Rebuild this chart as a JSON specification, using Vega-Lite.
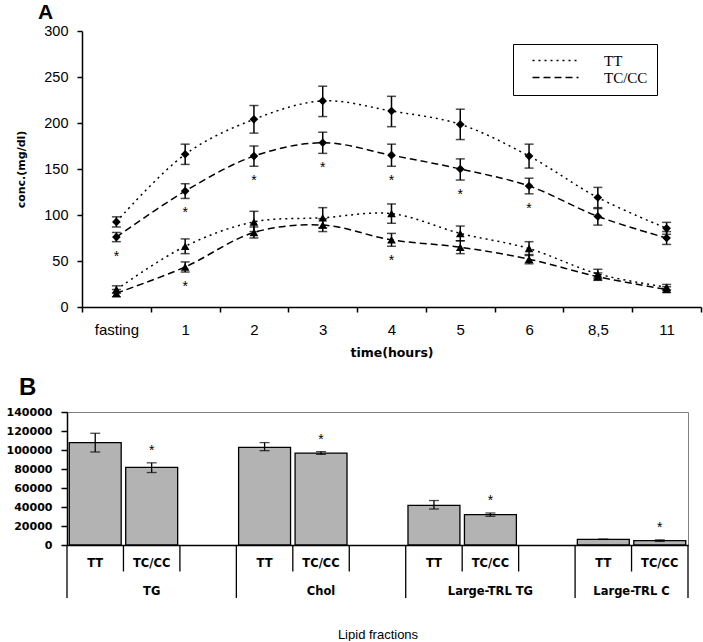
{
 "$schema": "https://vega.github.io/schema/vega-lite/v6.json",
 "background": "white",
 "padding": {"left": 5, "top": 2, "right": 2, "bottom": 0},
 "config": {
   "font": "Liberation Sans",
   "axis": {"grid": false, "domainColor": "black", "tickColor": "black", "labelColor": "black", "titleColor": "black", "domainWidth": 1.5, "tickWidth": 1.5, "labelOverlap": false},
   "title": {"color": "black"}
 },
 "datasets": {
  "timecourse": [
   {"time":"fasting","genotype":"TT","analyte":"TG","value":92.5,"lo":87,"hi":98,"sig":false},
   {"time":"1","genotype":"TT","analyte":"TG","value":166,"lo":155,"hi":177,"sig":false},
   {"time":"2","genotype":"TT","analyte":"TG","value":204,"lo":189,"hi":219,"sig":false},
   {"time":"3","genotype":"TT","analyte":"TG","value":224,"lo":207,"hi":240,"sig":false},
   {"time":"4","genotype":"TT","analyte":"TG","value":213,"lo":196,"hi":229,"sig":false},
   {"time":"5","genotype":"TT","analyte":"TG","value":198.5,"lo":182,"hi":215,"sig":false},
   {"time":"6","genotype":"TT","analyte":"TG","value":164,"lo":151,"hi":177,"sig":false},
   {"time":"8,5","genotype":"TT","analyte":"TG","value":119,"lo":108,"hi":130,"sig":false},
   {"time":"11","genotype":"TT","analyte":"TG","value":85.5,"lo":79,"hi":92,"sig":false},
   {"time":"fasting","genotype":"TC/CC","analyte":"TG","value":76,"lo":71,"hi":81,"sig":true},
   {"time":"1","genotype":"TC/CC","analyte":"TG","value":126,"lo":118,"hi":134,"sig":true},
   {"time":"2","genotype":"TC/CC","analyte":"TG","value":164,"lo":153,"hi":175,"sig":true},
   {"time":"3","genotype":"TC/CC","analyte":"TG","value":178.5,"lo":167,"hi":190,"sig":true},
   {"time":"4","genotype":"TC/CC","analyte":"TG","value":165,"lo":153,"hi":177,"sig":true},
   {"time":"5","genotype":"TC/CC","analyte":"TG","value":150,"lo":138,"hi":161,"sig":true},
   {"time":"6","genotype":"TC/CC","analyte":"TG","value":131.5,"lo":123,"hi":140,"sig":true},
   {"time":"8,5","genotype":"TC/CC","analyte":"TG","value":98.5,"lo":89,"hi":107,"sig":false},
   {"time":"11","genotype":"TC/CC","analyte":"TG","value":75,"lo":68,"hi":82,"sig":false},
   {"time":"fasting","genotype":"TT","analyte":"Large-TRL TG","value":19,"lo":15,"hi":23,"sig":false},
   {"time":"1","genotype":"TT","analyte":"Large-TRL TG","value":66,"lo":58,"hi":74,"sig":false},
   {"time":"2","genotype":"TT","analyte":"Large-TRL TG","value":92.5,"lo":82,"hi":104,"sig":false},
   {"time":"3","genotype":"TT","analyte":"Large-TRL TG","value":97,"lo":86,"hi":108,"sig":false},
   {"time":"4","genotype":"TT","analyte":"Large-TRL TG","value":101.5,"lo":91,"hi":112,"sig":false},
   {"time":"5","genotype":"TT","analyte":"Large-TRL TG","value":80,"lo":72,"hi":88,"sig":false},
   {"time":"6","genotype":"TT","analyte":"Large-TRL TG","value":63.5,"lo":56,"hi":71,"sig":false},
   {"time":"8,5","genotype":"TT","analyte":"Large-TRL TG","value":36,"lo":31,"hi":41,"sig":false},
   {"time":"11","genotype":"TT","analyte":"Large-TRL TG","value":21.5,"lo":18.5,"hi":24.5,"sig":false},
   {"time":"fasting","genotype":"TC/CC","analyte":"Large-TRL TG","value":15,"lo":11,"hi":19,"sig":false},
   {"time":"1","genotype":"TC/CC","analyte":"Large-TRL TG","value":43.5,"lo":38,"hi":49,"sig":true},
   {"time":"2","genotype":"TC/CC","analyte":"Large-TRL TG","value":81,"lo":75,"hi":87,"sig":false},
   {"time":"3","genotype":"TC/CC","analyte":"Large-TRL TG","value":89,"lo":82,"hi":96,"sig":false},
   {"time":"4","genotype":"TC/CC","analyte":"Large-TRL TG","value":73,"lo":66,"hi":80,"sig":true},
   {"time":"5","genotype":"TC/CC","analyte":"Large-TRL TG","value":65,"lo":58,"hi":72,"sig":false},
   {"time":"6","genotype":"TC/CC","analyte":"Large-TRL TG","value":52,"lo":47,"hi":57,"sig":false},
   {"time":"8,5","genotype":"TC/CC","analyte":"Large-TRL TG","value":33,"lo":29,"hi":37,"sig":false},
   {"time":"11","genotype":"TC/CC","analyte":"Large-TRL TG","value":19,"lo":16,"hi":22,"sig":false}
  ],
  "auc": [
   {"key":"TG TT","group":"TG","genotype":"TT","value":107700,"lo":97900,"hi":117600,"sig":false},
   {"key":"TG TC/CC","group":"TG","genotype":"TC/CC","value":81800,"lo":76300,"hi":86500,"sig":true},
   {"key":"Chol TT","group":"Chol","genotype":"TT","value":102800,"lo":99300,"hi":107800,"sig":false},
   {"key":"Chol TC/CC","group":"Chol","genotype":"TC/CC","value":96800,"lo":95300,"hi":98300,"sig":true},
   {"key":"Large-TRL TG TT","group":"Large-TRL TG","genotype":"TT","value":41800,"lo":37900,"hi":46800,"sig":false},
   {"key":"Large-TRL TG TC/CC","group":"Large-TRL TG","genotype":"TC/CC","value":31900,"lo":30200,"hi":33700,"sig":true},
   {"key":"Large-TRL C TT","group":"Large-TRL C","genotype":"TT","value":6000,"lo":5900,"hi":6100,"sig":false},
   {"key":"Large-TRL C TC/CC","group":"Large-TRL C","genotype":"TC/CC","value":4600,"lo":3800,"hi":5400,"sig":true}
  ]
 },
 "columns": 1,
 "spacing": 16,
 "concat": [
  {
   "width": 634, "height": 276,
   "view": {"stroke": null},
   "title": {"text": "A", "anchor": "start", "frame": "group", "fontSize": 21, "fontWeight": "bold", "dx": -29, "offset": -17, "baseline": "alphabetic", "font": "Liberation Sans"},
   "data": {"name": "timecourse"},
   "encoding": {
    "x": {"field": "time", "type": "ordinal", "sort": null,
          "scale": {"type": "band", "domain": ["fasting","1","2","3","4","5","6","8,5","11"], "range": [15, 634], "paddingInner": 0, "paddingOuter": 0},
          "axis": {"title": "time(hours)", "labelAngle": 0, "labelOverlap": false, "tickBand": "extent", "tickSize": 5, "labelPadding": 10, "labelFontSize": 15, "labelFont": "Liberation Sans", "titleFont": "DejaVu Sans", "titleFontSize": 12.5, "titleFontWeight": "bold", "titlePadding": 9}}
   },
   "layer": [
    {
     "mark": {"type": "line", "interpolate": "catmull-rom", "color": "black", "strokeWidth": 1.5},
     "encoding": {
      "y": {"field": "value", "type": "quantitative", "title": "conc.(mg/dl)", "scale": {"domain": [0, 300]},
            "axis": {"values": [0,50,100,150,200,250,300], "labelOverlap": false, "offset": -15, "tickSize": 5, "labelPadding": 9, "labelFontSize": 14.5, "labelFont": "Liberation Sans", "titleFont": "DejaVu Sans", "titleFontSize": 11, "titleFontWeight": "bold", "titlePadding": 17}},
      "strokeDash": {"field": "genotype", "type": "nominal",
            "scale": {"domain": ["TT", "TC/CC"], "range": [[2, 4], [7, 4]]},
            "legend": {"title": null, "orient": "none", "legendX": 446, "legendY": 13, "symbolType": "M0.6,0H9.8", "symbolSize": 100, "symbolStrokeWidth": 1.5, "symbolStrokeColor": "black", "symbolFillColor": "transparent", "labelFont": "Liberation Serif", "labelFontSize": 15, "labelColor": "black", "labelOffset": 67, "strokeColor": "black", "fillColor": "white", "padding": 9, "rowPadding": 1}},
      "detail": {"field": "analyte", "type": "nominal"}
     }
    },
    {
     "mark": {"type": "errorbar", "ticks": {"size": 9}, "thickness": 1.5, "color": "black"},
     "encoding": {
      "y": {"field": "lo", "type": "quantitative", "title": "conc.(mg/dl)"},
      "y2": {"field": "hi"},
      "detail": {"field": "genotype", "type": "nominal"}
     }
    },
    {
     "mark": {"type": "point", "filled": true, "color": "black", "size": 75, "opacity": 1},
     "encoding": {
      "y": {"field": "value", "type": "quantitative", "title": "conc.(mg/dl)"},
      "shape": {"field": "analyte", "type": "nominal", "scale": {"domain": ["TG", "Large-TRL TG"], "range": ["diamond", "triangle-up"]}, "legend": null}
     }
    },
    {
     "transform": [{"filter": "datum.sig"}],
     "mark": {"type": "text", "text": "*", "dy": 15, "fontSize": 14, "color": "black"},
     "encoding": {
      "y": {"field": "lo", "type": "quantitative", "title": "conc.(mg/dl)"}
     }
    }
   ]
  },
  {
   "spacing": 0,
   "bounds": "flush",
   "vconcat": [
    {
     "width": 621, "height": 133,
     "view": {"stroke": "#808080"},
     "title": {"text": "B", "anchor": "start", "frame": "group", "fontSize": 24, "fontWeight": "bold", "dx": -48, "offset": -13, "baseline": "alphabetic", "font": "Liberation Sans"},
     "data": {"name": "auc"},
     "encoding": {
      "x": {"field": "key", "type": "nominal", "sort": null,
            "scale": {"domain": ["TG TT","TG TC/CC","gap1","Chol TT","Chol TC/CC","gap2","Large-TRL TG TT","Large-TRL TG TC/CC","gap3","Large-TRL C TT","Large-TRL C TC/CC"], "paddingInner": 0.08, "paddingOuter": 0.04},
            "axis": {"labels": false, "ticks": false, "title": null}},
      "y": {"field": "value", "type": "quantitative", "title": null, "scale": {"domain": [0, 140000], "nice": false},
            "axis": {"values": [0,20000,40000,60000,80000,100000,120000,140000], "labelOverlap": false, "labelBound": false, "labelFlush": false, "format": "d", "tickSize": 6, "labelPadding": 9, "labelFont": "DejaVu Sans", "labelFontWeight": "bold", "labelFontSize": 11}}
     },
     "layer": [
      {
       "mark": {"type": "bar", "fill": "#b3b3b3", "stroke": "black", "strokeWidth": 1.3}
      },
      {
       "mark": {"type": "errorbar", "ticks": {"size": 10}, "thickness": 1.3, "color": "black"},
       "encoding": {
        "y": {"field": "lo", "type": "quantitative", "title": null,
              "axis": {"values": [0,20000,40000,60000,80000,100000,120000,140000], "labelOverlap": false, "labelBound": false, "labelFlush": false, "format": "d", "tickSize": 6, "labelPadding": 9, "labelFont": "DejaVu Sans", "labelFontWeight": "bold", "labelFontSize": 11}},
        "y2": {"field": "hi"}
       }
      },
      {
       "transform": [{"filter": "datum.sig"}],
       "mark": {"type": "text", "text": "*", "dy": -12, "fontSize": 14, "color": "black"},
       "encoding": {
        "y": {"field": "hi", "type": "quantitative", "title": null,
              "axis": {"values": [0,20000,40000,60000,80000,100000,120000,140000], "labelOverlap": false, "labelBound": false, "labelFlush": false, "format": "d", "tickSize": 6, "labelPadding": 9, "labelFont": "DejaVu Sans", "labelFontWeight": "bold", "labelFontSize": 11}}
       }
      }
     ]
    },
    {
     "width": 621, "height": 53,
     "view": {"stroke": null},
     "data": {"name": "auc"},
     "layer": [
      {
       "transform": [{"filter": "datum.genotype == 'TT'"}],
       "mark": {"type": "rule", "color": "black", "strokeWidth": 1.3},
       "encoding": {
        "x": {"field": "key", "type": "nominal", "sort": null, "bandPosition": 0,
              "scale": {"domain": ["TG TT","TG TC/CC","gap1","Chol TT","Chol TC/CC","gap2","Large-TRL TG TT","Large-TRL TG TC/CC","gap3","Large-TRL C TT","Large-TRL C TC/CC"], "paddingInner": 0, "paddingOuter": 0},
              "axis": {"labels": false, "ticks": false, "domain": false, "title": "Lipid fractions", "titleFont": "Liberation Sans", "titleFontSize": 13, "titleFontWeight": "normal", "titlePadding": 30}}
       }
      },
      {
       "transform": [{"filter": "datum.key == 'Large-TRL C TC/CC'"}],
       "mark": {"type": "rule", "color": "black", "strokeWidth": 1.3},
       "encoding": {
        "x": {"field": "key", "type": "nominal", "sort": null, "bandPosition": 1}
       }
      },
      {
       "transform": [{"filter": "datum.genotype == 'TC/CC'"}],
       "mark": {"type": "rule", "color": "black", "strokeWidth": 1.3},
       "encoding": {
        "x": {"field": "key", "type": "nominal", "sort": null, "bandPosition": 0},
        "y": {"datum": 2, "type": "quantitative", "scale": {"domain": [0, 2]}, "axis": null},
        "y2": {"datum": 1}
       }
      },
      {
       "transform": [{"filter": "datum.genotype == 'TC/CC' && datum.group != 'Large-TRL C'"}],
       "mark": {"type": "rule", "color": "black", "strokeWidth": 1.3},
       "encoding": {
        "x": {"field": "key", "type": "nominal", "sort": null, "bandPosition": 1},
        "y": {"datum": 2, "type": "quantitative", "axis": null},
        "y2": {"datum": 1}
       }
      },
      {
       "mark": {"type": "text", "font": "DejaVu Sans", "fontWeight": "bold", "fontSize": 11.5, "color": "black", "baseline": "middle"},
       "encoding": {
        "x": {"field": "key", "type": "nominal", "sort": null},
        "y": {"datum": 1.28, "type": "quantitative", "axis": null},
        "text": {"field": "genotype"}
       }
      },
      {
       "transform": [{"filter": "datum.genotype == 'TC/CC' && datum.group != 'Large-TRL C'"}],
       "mark": {"type": "text", "font": "DejaVu Sans", "fontWeight": "bold", "fontSize": 11.5, "color": "black", "baseline": "middle"},
       "encoding": {
        "x": {"field": "key", "type": "nominal", "sort": null},
        "y": {"datum": 0.24, "type": "quantitative", "axis": null},
        "text": {"field": "group"}
       }
      },
      {
       "transform": [{"filter": "datum.key == 'Large-TRL C TC/CC'"}],
       "mark": {"type": "text", "font": "DejaVu Sans", "fontWeight": "bold", "fontSize": 11.5, "color": "black", "baseline": "middle"},
       "encoding": {
        "x": {"field": "key", "type": "nominal", "sort": null, "bandPosition": 0},
        "y": {"datum": 0.24, "type": "quantitative", "axis": null},
        "text": {"field": "group"}
       }
      }
     ]
    }
   ]
  }
 ]
}
